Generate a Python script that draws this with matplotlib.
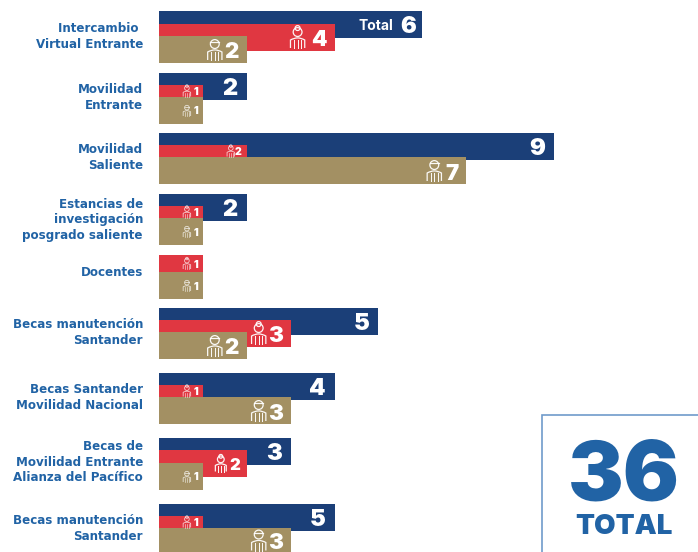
import matplotlib
matplotlib.use("Agg")
import matplotlib.pyplot as plt
from matplotlib.patches import Circle, PathPatch
from matplotlib.path import Path

plt.rcParams['font.family'] = ['Inter', 'DejaVu Sans']

labels = ["Intercambio \nVirtual Entrante", "Movilidad\nEntrante", "Movilidad\nSaliente",
          "Estancias de\ninvestigación\nposgrado saliente", "Docentes",
          "Becas manutención\nSantander", "Becas Santander\nMovilidad Nacional",
          "Becas de\nMovilidad Entrante\nAlianza del Pacífico", "Becas manutención\nSantander"]
totals = [6, 2, 9, 2, None, 5, 4, 3, 5]
# the last navy bar is printed as 5 but drawn 4 units long in the original
total_lengths = [6, 2, 9, 2, None, 5, 4, 3, 4]
women = [4, 1, 2, 1, 1, 3, 1, 2, 1]
men = [2, 1, 7, 1, 1, 2, 3, 1, 3]
grand_total = 36

# bar rows, pixels from the top: (top, bottom) for each series
navy_rows = [(11, 38), (73, 100), (133, 160), (194, 221), None, (308, 335), (373, 400), (438, 465), (504, 531)]
red_rows = [(24, 51), (85, 97), (145, 157), (206, 218), (255, 272), (320, 347), (385, 397), (450, 477), (516, 528)]
tan_rows = [(36, 63), (97, 124), (157, 184), (218, 245), (272, 299), (332, 359), (397, 424), (463, 490), (528, 552)]
label_y = [36.5, 97.5, 157.5, 220, 273, 332.5, 397.5, 462, 528.5]

NAVY = "#1b3f78"
RED = "#e03741"
TAN = "#a39063"
BLUE = "#2163a5"
W, H = 698, 552
X0 = 159
SCALE = 43.9

fig = plt.figure(figsize=(W / 100, H / 100), dpi=100)
ax = fig.add_axes([0, 0, 1, 1])
ax.set_xlim(-X0 / SCALE, (W - X0) / SCALE)
ax.set_ylim(H, 0)
ax.axis("off")
px = fig.add_axes([0, 0, 1, 1], zorder=5)
px.set_xlim(0, W)
px.set_ylim(H, 0)
px.axis("off")
px.patch.set_alpha(0)


def to_px(v):
    return X0 + SCALE * v


def person(xc, yc, h, woman=False):
    # small outlined figure, h is its height in pixels
    lw = 0.9 if h > 15 else 0.6
    alpha = 0.95 if h > 15 else 0.75
    kw = dict(fill=False, ec="white", lw=lw, alpha=alpha)
    r = h * 0.21
    hy = yc - h * 0.26
    px.add_patch(Circle((xc, hy), r, **kw))
    if woman:
        px.add_patch(Circle((xc, hy - r * 0.9), r * 0.55, **kw))
    else:
        px.plot([xc - r, xc + r], [hy - r * 0.4, hy - r * 0.4], color="white", lw=lw, alpha=alpha)
    bw = h * 0.34
    top = yc + h * 0.02
    bot = yc + h * 0.5
    verts = [(xc - bw, bot), (xc - bw, top + h * 0.1), (xc - bw * 0.5, top), (xc, top),
             (xc + bw * 0.5, top), (xc + bw, top + h * 0.1), (xc + bw, bot)]
    codes = [Path.MOVETO, Path.LINETO, Path.CURVE3, Path.CURVE3, Path.CURVE3, Path.CURVE3, Path.LINETO]
    px.add_patch(PathPatch(Path(verts, codes), **kw))
    for dx in (-0.5, 0, 0.5):
        px.plot([xc + bw * dx, xc + bw * dx], [top + h * 0.12, bot], color="white", lw=lw * 0.8, alpha=alpha)


def sub_bar(v, row, color, woman):
    top, bottom = row
    yc = (top + bottom) / 2
    ax.barh(yc, v, height=bottom - top, left=0, color=color, lw=0)
    end = to_px(v)
    if bottom - top > 20 and v > 1:
        if woman and v == 2:
            px.text(end - 7, yc + 1, str(v), color="white", fontsize=12, fontweight="black", ha="right", va="center_baseline")
            person(end - 26, yc, 16, woman)
        else:
            off = -37 if v == 4 else -32
            px.text(end - 8, yc + 1, str(v), color="white", fontsize=16, fontweight="black", ha="right", va="center_baseline")
            person(end + off, yc, 21, woman)
    else:
        px.text(end - 5, yc, str(v), color="white", fontsize=7.5, fontweight="black", ha="right", va="center_baseline")
        person(end - 16, yc, 11, woman)


for i, lab in enumerate(labels):
    if totals[i] is not None:
        top, bottom = navy_rows[i]
        yc = (top + bottom) / 2
        ax.barh(yc, total_lengths[i], height=bottom - top, color=NAVY, lw=0)
        end = to_px(total_lengths[i])
        px.text(end - (6 if i == 0 else 9), yc, str(totals[i]), color="white", fontsize=17, fontweight="black",
                ha="right", va="center_baseline")
        if i == 0:
            px.text(end - 29, yc, "Total", color="white", fontsize=10, fontweight="bold",
                    ha="right", va="center_baseline")
    sub_bar(women[i], red_rows[i], RED, True)
    sub_bar(men[i], tan_rows[i], TAN, False)
    px.text(143, label_y[i], lab, color=BLUE, fontsize=8.6, fontweight="bold", family="DejaVu Sans",
            ha="right", va="center", linespacing=1.25)

# total box
px.plot([541.5, 541.5, W], [H, 414.5, 414.5], color="#6f9bcb", lw=1.2, solid_joinstyle="miter")
px.text(624, 470, str(grand_total), color=BLUE, fontsize=60, fontweight="black", ha="center", va="center_baseline")
px.text(624, 524, "TOTAL", color=BLUE, fontsize=20, fontweight="black", ha="center", va="center_baseline")

fig.savefig("out.png", dpi=100)
